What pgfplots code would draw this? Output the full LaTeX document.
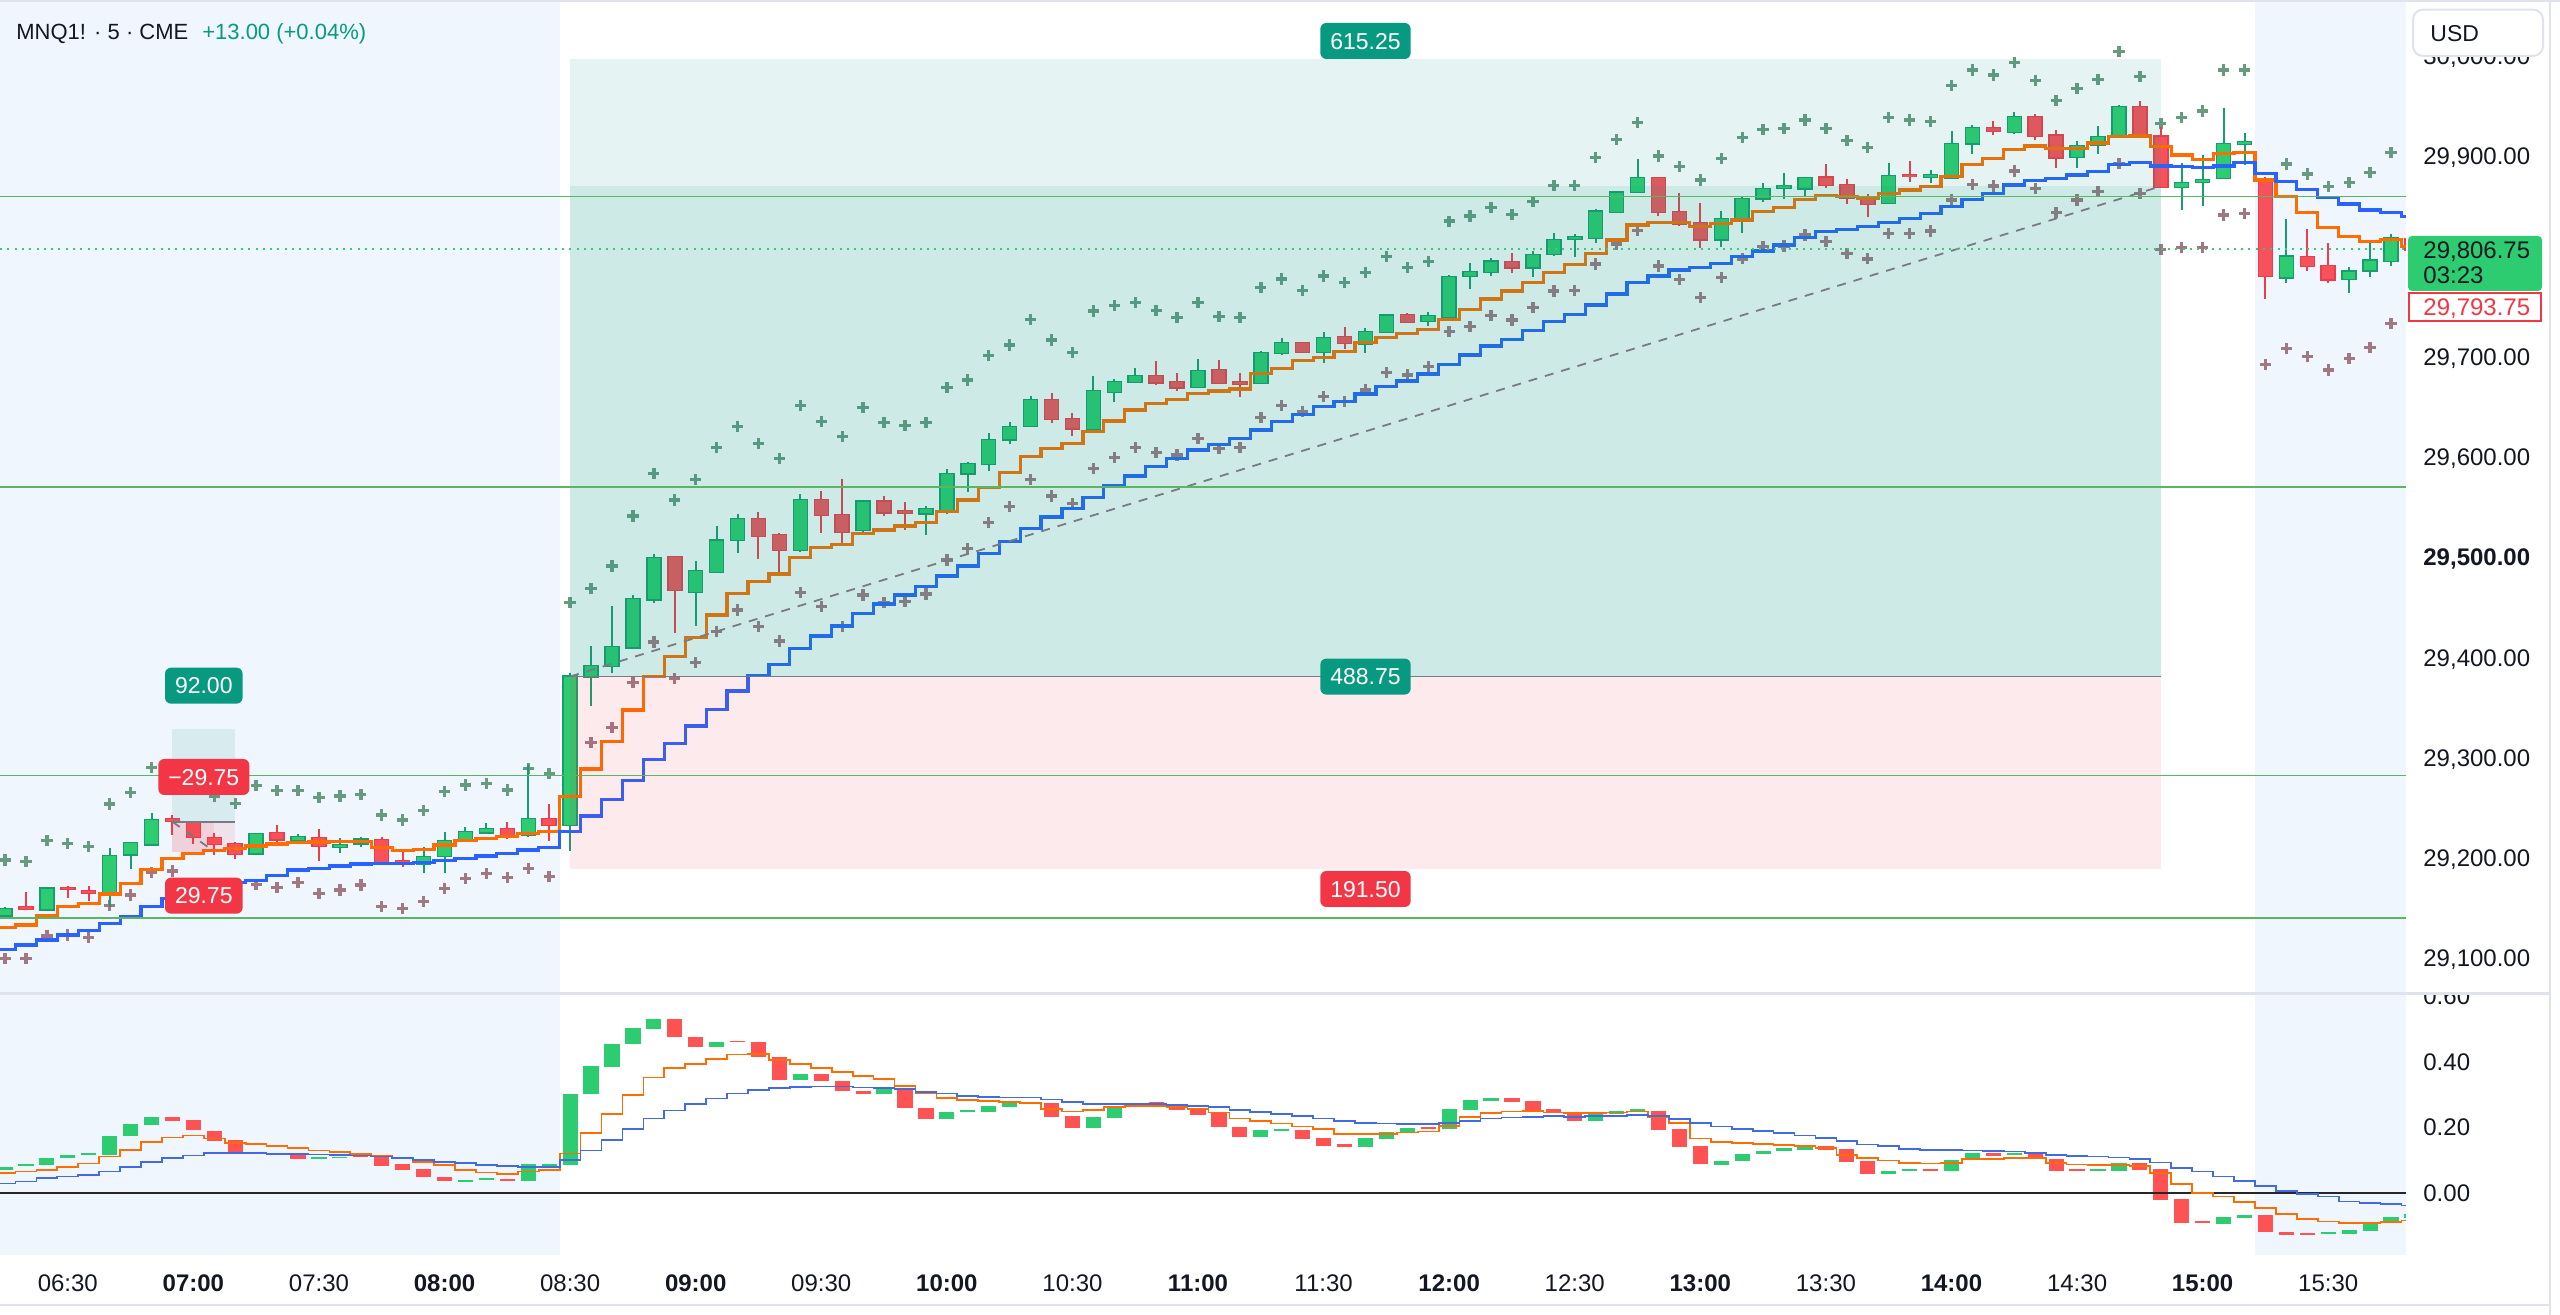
\documentclass[border=0pt]{standalone}
\usepackage{pgfplots}
\pgfplotsset{compat=1.18}
\usepackage{pgfplotstable}
\usepackage{fontspec}
\setmainfont{Liberation Sans}

\definecolor{cgreen}{RGB}{46,204,113}
\definecolor{cgreenb}{RGB}{24,158,110}
\definecolor{cred}{RGB}{247,82,92}
\definecolor{credb}{RGB}{236,62,74}
\definecolor{ored}{RGB}{255,82,82}
\definecolor{tvteal}{RGB}{8,153,129}
\definecolor{tvred}{RGB}{242,54,69}
\definecolor{orL}{RGB}{255,109,0}
\definecolor{blL}{RGB}{41,98,255}
\definecolor{blO}{RGB}{66,106,226}
\definecolor{sess}{RGB}{240,246,253}
\definecolor{hgreen}{RGB}{90,182,96}
\definecolor{dotg}{RGB}{60,200,120}
\definecolor{upx}{RGB}{104,154,128}
\definecolor{lox}{RGB}{160,120,130}
\definecolor{txt}{RGB}{19,23,34}
\definecolor{bord}{RGB}{224,227,235}
\definecolor{entryg}{RGB}{120,123,134}

\newcommand{\fs}[1]{\fontsize{#1}{#1}\selectfont}

% candles: bar index (5-min bars, 0 = 06:30), open high low close
\pgfplotstableread{
i o h l c
-3 29142.9 29151.6 29139.9 29148.9
-2 29151.0 29165.8 29149.5 29150.0
-1 29148.9 29170.8 29147.6 29169.8
0 29170.3 29172.5 29159.9 29169.5
1 29167.5 29172.5 29157.5 29165.8
2 29165.8 29210.7 29151.6 29202.4
3 29203.7 29216.0 29188.8 29214.7
4 29213.7 29244.6 29213.0 29237.6
5 29238.6 29242.9 29223.0 29237.6
6 29236.3 29236.8 29214.0 29221.3
7 29220.3 29224.7 29203.1 29214.4
8 29214.4 29216.4 29198.8 29204.7
9 29204.7 29225.3 29204.1 29223.7
10 29224.7 29233.0 29214.7 29218.7
11 29218.0 29224.0 29216.4 29220.7
12 29220.3 29229.3 29197.4 29212.0
13 29211.4 29219.7 29204.7 29213.4
14 29214.7 29221.3 29211.4 29218.4
15 29218.0 29220.7 29194.1 29196.4
16 29197.4 29207.4 29190.8 29194.1
17 29194.1 29211.4 29185.4 29200.7
18 29202.1 29226.3 29184.8 29217.0
19 29218.7 29230.6 29216.4 29225.7
20 29225.7 29234.6 29224.0 29229.3
21 29228.6 29236.3 29218.7 29223.0
22 29223.0 29292.8 29220.7 29238.6
23 29238.6 29253.9 29217.4 29233.0
24 29233.0 29384.5 29207.0 29380.9
25 29380.9 29411.5 29351.7 29391.5
26 29391.5 29451.3 29384.2 29410.1
27 29410.1 29462.3 29409.1 29458.0
28 29458.0 29502.9 29454.0 29498.9
29 29499.9 29500.5 29424.1 29467.3
30 29465.6 29496.2 29431.7 29486.2
31 29485.6 29531.4 29484.6 29516.5
32 29517.2 29542.7 29504.8 29538.4
33 29538.4 29545.4 29497.9 29521.5
34 29522.1 29523.8 29482.3 29507.2
35 29507.2 29562.7 29505.2 29557.0
36 29557.0 29566.0 29523.8 29542.1
37 29542.1 29577.6 29513.8 29525.5
38 29527.1 29557.0 29522.1 29555.4
39 29555.4 29561.3 29541.1 29544.7
40 29546.0 29555.4 29527.1 29544.7
41 29543.7 29551.4 29522.1 29547.7
42 29547.0 29587.6 29543.1 29582.6
43 29583.6 29594.6 29565.3 29592.9
44 29592.9 29623.5 29586.3 29616.8
45 29617.5 29634.5 29612.5 29630.1
46 29630.8 29660.7 29629.5 29656.7
47 29656.7 29663.4 29633.5 29637.8
48 29637.8 29644.1 29620.5 29628.5
49 29627.5 29680.7 29626.8 29665.7
50 29665.0 29677.7 29655.1 29674.4
51 29675.0 29688.3 29674.4 29681.0
52 29681.0 29696.0 29671.7 29674.4
53 29674.4 29684.0 29666.1 29669.4
54 29670.0 29697.3 29668.4 29685.7
55 29686.7 29696.6 29673.4 29674.0
56 29675.0 29684.0 29659.4 29673.4
57 29673.4 29705.9 29672.7 29703.9
58 29703.9 29718.2 29701.6 29713.2
59 29713.2 29714.9 29703.3 29704.9
60 29704.9 29724.9 29694.0 29718.9
61 29719.9 29729.9 29707.3 29713.9
62 29713.2 29728.2 29703.9 29724.2
63 29724.9 29742.2 29723.9 29740.8
64 29741.5 29743.2 29733.2 29734.9
65 29735.8 29744.8 29730.5 29740.5
66 29739.8 29781.4 29737.2 29779.0
67 29780.4 29793.7 29767.4 29784.0
68 29784.7 29798.0 29780.4 29794.7
69 29794.7 29803.0 29783.0 29789.0
70 29789.0 29805.6 29779.0 29801.3
71 29802.3 29823.6 29800.6 29816.3
72 29817.6 29822.2 29799.6 29818.9
73 29818.0 29846.9 29813.6 29844.5
74 29844.5 29864.5 29842.9 29863.5
75 29864.5 29896.7 29863.5 29877.8
76 29877.8 29878.4 29840.2 29844.5
77 29844.5 29863.5 29830.2 29832.9
78 29832.9 29853.5 29808.0 29817.0
79 29817.0 29845.2 29809.6 29836.9
80 29836.9 29859.5 29822.9 29856.8
81 29857.8 29872.8 29854.5 29866.8
82 29868.8 29882.8 29856.8 29869.8
83 29867.8 29879.4 29859.5 29878.4
84 29878.4 29892.1 29867.8 29871.1
85 29871.1 29876.8 29852.2 29858.8
86 29857.8 29862.1 29839.5 29852.2
87 29853.5 29893.4 29852.2 29880.1
88 29881.1 29895.0 29874.4 29880.1
89 29879.4 29886.1 29873.4 29880.8
90 29878.8 29924.9 29877.4 29912.0
91 29912.6 29930.9 29902.0 29927.6
92 29927.6 29935.3 29920.9 29925.3
93 29924.3 29944.2 29922.0 29938.6
94 29938.6 29941.6 29916.0 29920.3
95 29920.3 29925.9 29887.7 29898.7
96 29899.4 29915.3 29887.7 29910.0
97 29911.0 29929.9 29902.0 29919.3
98 29919.3 29950.9 29917.6 29948.5
99 29948.5 29955.2 29918.8 29919.3
100 29919.3 29928.6 29869.0 29869.6
101 29869.4 29893.4 29846.2 29872.8
102 29874.4 29901.0 29850.2 29876.1
103 29877.8 29947.5 29877.2 29912.0
104 29912.6 29922.6 29891.0 29914.3
105 29876.1 29879.4 29757.1 29780.4
106 29779.0 29836.9 29773.1 29799.7
107 29799.7 29826.9 29785.7 29790.4
108 29790.4 29813.6 29773.1 29777.1
109 29777.1 29789.7 29763.1 29784.7
110 29786.0 29815.6 29779.7 29795.7
111 29795.7 29822.3 29790.4 29817.9
112 29817.0 29818.0 29793.0 29806.8
}\candles

% stepped lines in the price pane: orange, blue
\pgfplotstableread{
i o b
-4 29129.0 29105.0
-3 29131.0 29109.0
-2 29133.3 29113.3
-1 29142.3 29118.3
0 29151.6 29123.3
1 29155.0 29127.6
2 29164.2 29134.9
3 29174.8 29141.6
4 29188.8 29151.6
5 29199.7 29159.9
6 29204.7 29166.5
7 29207.4 29172.2
8 29209.7 29176.0
9 29212.0 29177.5
10 29214.0 29182.8
11 29215.4 29188.1
12 29216.0 29189.8
13 29216.7 29192.1
14 29216.4 29194.1
15 29210.5 29194.8
16 29207.5 29194.8
17 29208.7 29195.4
18 29213.0 29197.4
19 29217.4 29199.7
20 29219.4 29202.1
21 29221.4 29204.7
22 29224.7 29208.1
23 29226.3 29210.7
24 29261.3 29226.3
25 29288.8 29242.0
26 29316.1 29258.6
27 29347.7 29277.2
28 29380.9 29298.5
29 29400.8 29314.4
30 29420.1 29331.7
31 29442.4 29348.3
32 29464.0 29366.6
33 29475.6 29381.9
34 29483.2 29393.2
35 29499.5 29409.1
36 29509.8 29421.4
37 29512.8 29431.4
38 29523.8 29444.0
39 29527.1 29453.3
40 29531.1 29462.3
41 29534.4 29470.6
42 29545.4 29481.3
43 29557.0 29491.2
44 29569.6 29503.9
45 29584.3 29515.5
46 29600.2 29528.8
47 29608.5 29540.0
48 29613.5 29548.4
49 29625.1 29559.2
50 29635.8 29571.0
51 29646.8 29581.0
52 29653.4 29590.3
53 29656.8 29598.6
54 29663.4 29606.9
55 29665.7 29612.6
56 29667.7 29618.5
57 29683.3 29626.8
58 29688.3 29635.2
59 29695.9 29642.5
60 29699.3 29650.1
61 29704.9 29655.1
62 29713.9 29662.7
63 29718.9 29670.0
64 29723.2 29675.7
65 29727.0 29682.7
66 29737.0 29692.3
67 29747.1 29701.6
68 29757.4 29710.6
69 29765.4 29717.2
70 29774.0 29725.9
71 29783.7 29734.9
72 29791.7 29742.0
73 29803.0 29751.5
74 29816.3 29762.4
75 29831.2 29774.1
76 29833.9 29780.4
77 29833.9 29786.4
78 29829.6 29789.0
79 29832.9 29793.0
80 29836.2 29799.7
81 29844.5 29805.3
82 29848.8 29811.3
83 29856.2 29819.0
84 29860.2 29824.6
85 29859.5 29826.3
86 29857.8 29829.6
87 29862.8 29833.6
88 29866.1 29837.9
89 29869.5 29842.9
90 29879.4 29849.5
91 29891.1 29856.2
92 29897.7 29862.8
93 29906.7 29871.1
94 29910.0 29875.4
95 29907.7 29877.8
96 29907.7 29881.1
97 29913.0 29884.4
98 29919.6 29891.5
99 29919.9 29893.5
100 29909.3 29890.0
101 29901.0 29889.4
102 29896.7 29888.7
103 29902.7 29890.0
104 29903.7 29893.4
105 29876.1 29882.7
106 29859.5 29874.4
107 29843.5 29866.8
108 29828.9 29858.8
109 29819.6 29852.2
110 29814.6 29846.2
111 29816.9 29843.5
112 29809.6 29839.5
}\mlines

% upper crosses
\pgfplotstableread{
i p
-3 29198.1
-2 29196.4
-1 29217.4
0 29214.7
1 29211.4
2 29253.9
3 29265.2
4 29290.1
5 29285.0
6 29272.0
7 29261.2
8 29254.6
9 29272.5
10 29267.2
11 29267.2
12 29260.2
13 29261.9
14 29263.2
15 29242.9
16 29238.0
17 29247.3
18 29266.2
19 29272.9
20 29274.5
21 29267.9
22 29289.5
23 29284.5
24 29455.0
25 29469.0
26 29491.2
27 29541.1
28 29583.6
29 29557.0
30 29577.6
31 29609.5
32 29630.1
33 29613.5
34 29598.6
35 29651.1
36 29635.1
37 29620.2
38 29649.4
39 29634.1
40 29631.1
41 29634.1
42 29669.4
43 29676.7
44 29700.9
45 29711.6
46 29737.1
47 29716.5
48 29704.2
49 29745.5
50 29750.8
51 29753.8
52 29745.8
53 29738.8
54 29753.8
55 29739.8
56 29738.8
57 29769.1
58 29777.4
59 29765.8
60 29780.4
61 29773.7
62 29784.0
63 29799.6
64 29789.0
65 29794.7
66 29835.0
67 29840.2
68 29848.9
69 29841.9
70 29854.5
71 29870.4
72 29870.4
73 29898.7
74 29916.6
75 29933.3
76 29900.0
77 29889.4
78 29876.1
79 29897.7
80 29918.6
81 29926.6
82 29927.6
83 29935.9
84 29927.6
85 29915.3
86 29908.7
87 29938.2
88 29935.9
89 29934.3
90 29970.1
91 29985.8
92 29980.8
93 29993.4
94 29975.1
95 29955.2
96 29967.5
97 29976.5
98 30004.0
99 29979.1
100 29932.6
101 29938.2
102 29944.9
103 29985.7
104 29985.7
106 29892.0
107 29882.1
108 29869.4
109 29873.8
110 29883.4
111 29903.7
}\ucr

% lower crosses
\pgfplotstableread{
i p
-3 29100.1
-2 29100.1
-1 29122.3
0 29123.3
1 29121.0
2 29152.6
3 29163.2
4 29185.8
5 29187.1
6 29172.0
7 29165.0
8 29165.0
9 29173.8
10 29170.5
11 29175.5
12 29164.9
13 29168.2
14 29173.2
15 29151.6
16 29149.9
17 29156.5
18 29169.8
19 29179.8
20 29184.8
21 29180.8
22 29189.8
23 29181.5
25 29315.1
26 29330.1
27 29375.3
28 29415.5
29 29379.2
30 29394.9
31 29425.8
32 29447.4
33 29430.7
34 29416.5
35 29465.0
36 29450.7
37 29430.7
38 29462.3
39 29455.0
40 29455.7
41 29463.3
42 29497.2
43 29508.8
44 29534.4
45 29550.4
46 29577.6
47 29561.0
48 29553.7
49 29588.6
50 29599.6
51 29609.2
52 29604.2
53 29601.9
54 29618.5
55 29608.6
56 29609.2
57 29639.5
58 29651.1
59 29645.1
60 29660.1
61 29655.1
62 29666.7
63 29684.3
64 29681.7
65 29690.0
66 29724.9
67 29729.9
68 29740.8
69 29736.5
70 29748.8
71 29765.4
72 29765.8
73 29792.4
74 29812.3
75 29825.6
76 29790.4
77 29777.1
78 29758.8
79 29778.7
80 29797.4
81 29809.6
82 29810.3
83 29821.3
84 29814.6
85 29803.0
86 29797.4
87 29822.9
88 29822.9
89 29825.3
90 29856.2
91 29871.8
92 29870.1
93 29885.1
94 29867.8
95 29843.9
96 29856.2
97 29864.5
98 29892.7
99 29862.8
100 29807.0
101 29808.6
102 29809.0
103 29841.2
104 29842.9
105 29692.3
106 29708.3
107 29700.0
108 29686.7
109 29698.3
110 29709.3
111 29733.2
}\lcr

% oscillator candles (open, close)
\pgfplotstableread{
i o c
-3 0.070 0.080
-2 0.082 0.088
-1 0.086 0.106
0 0.106 0.116
1 0.115 0.121
2 0.116 0.175
3 0.174 0.210
4 0.207 0.232
5 0.232 0.220
6 0.222 0.192
7 0.190 0.159
8 0.161 0.121
9 0.124 0.119
10 0.121 0.117
11 0.116 0.104
12 0.104 0.108
13 0.106 0.111
14 0.116 0.109
15 0.113 0.083
16 0.088 0.070
17 0.072 0.048
18 0.050 0.035
19 0.035 0.040
20 0.040 0.045
21 0.042 0.035
22 0.035 0.087
23 0.083 0.089
24 0.085 0.300
25 0.300 0.387
26 0.385 0.455
27 0.453 0.503
28 0.500 0.530
29 0.530 0.474
30 0.474 0.445
31 0.445 0.461
32 0.464 0.459
33 0.461 0.413
34 0.413 0.344
35 0.344 0.362
36 0.362 0.340
37 0.342 0.310
38 0.311 0.301
39 0.301 0.322
40 0.313 0.258
41 0.260 0.225
42 0.225 0.248
43 0.246 0.253
44 0.246 0.265
45 0.263 0.278
46 0.278 0.271
47 0.273 0.232
48 0.235 0.197
49 0.197 0.230
50 0.227 0.265
51 0.263 0.275
52 0.276 0.263
53 0.268 0.253
54 0.255 0.237
55 0.245 0.200
56 0.202 0.171
57 0.171 0.192
58 0.189 0.194
59 0.192 0.163
60 0.166 0.144
61 0.148 0.139
62 0.139 0.166
63 0.164 0.185
64 0.184 0.197
65 0.200 0.194
66 0.194 0.255
67 0.253 0.283
68 0.280 0.290
69 0.290 0.276
70 0.280 0.251
71 0.255 0.245
72 0.248 0.219
73 0.219 0.243
74 0.241 0.251
75 0.248 0.255
76 0.251 0.192
77 0.194 0.141
78 0.144 0.087
79 0.085 0.097
80 0.096 0.119
81 0.118 0.128
82 0.129 0.136
83 0.131 0.143
84 0.143 0.131
85 0.133 0.095
86 0.097 0.057
87 0.057 0.067
88 0.068 0.073
89 0.073 0.068
90 0.068 0.100
91 0.100 0.121
92 0.121 0.114
93 0.116 0.123
94 0.121 0.103
95 0.103 0.068
96 0.073 0.068
97 0.068 0.073
98 0.068 0.092
99 0.092 0.070
100 0.072 -0.021
101 -0.019 -0.090
102 -0.085 -0.090
103 -0.095 -0.074
104 -0.075 -0.067
105 -0.067 -0.120
106 -0.118 -0.128
107 -0.123 -0.128
108 -0.126 -0.120
109 -0.126 -0.112
110 -0.115 -0.092
111 -0.092 -0.074
112 -0.077 -0.064
}\oscb

% oscillator lines: orange, blue
\pgfplotstableread{
i o b
-4 0.057 0.025
-3 0.060 0.029
-2 0.065 0.035
-1 0.070 0.045
0 0.080 0.050
1 0.090 0.055
2 0.111 0.065
3 0.131 0.080
4 0.156 0.095
5 0.169 0.106
6 0.175 0.114
7 0.166 0.121
8 0.153 0.121
9 0.149 0.121
10 0.143 0.119
11 0.136 0.118
12 0.129 0.117
13 0.124 0.116
14 0.118 0.114
15 0.113 0.111
16 0.106 0.106
17 0.095 0.100
18 0.085 0.095
19 0.070 0.092
20 0.062 0.085
21 0.058 0.082
22 0.065 0.080
23 0.070 0.080
24 0.120 0.101
25 0.182 0.129
26 0.240 0.161
27 0.298 0.195
28 0.352 0.227
29 0.380 0.251
30 0.393 0.270
31 0.408 0.288
32 0.422 0.303
33 0.423 0.314
34 0.405 0.319
35 0.393 0.322
36 0.381 0.324
37 0.369 0.324
38 0.356 0.321
39 0.346 0.319
40 0.326 0.316
41 0.303 0.308
42 0.290 0.303
43 0.283 0.296
44 0.281 0.293
45 0.276 0.291
46 0.273 0.291
47 0.255 0.285
48 0.248 0.276
49 0.253 0.271
50 0.261 0.270
51 0.265 0.270
52 0.265 0.270
53 0.261 0.268
54 0.256 0.265
55 0.245 0.261
56 0.227 0.253
57 0.219 0.246
58 0.212 0.240
59 0.202 0.234
60 0.194 0.227
61 0.180 0.219
62 0.179 0.214
63 0.179 0.212
64 0.184 0.209
65 0.187 0.209
66 0.204 0.214
67 0.232 0.220
68 0.243 0.227
69 0.248 0.230
70 0.250 0.232
71 0.245 0.234
72 0.243 0.232
73 0.243 0.234
74 0.245 0.234
75 0.248 0.237
76 0.232 0.234
77 0.214 0.225
78 0.166 0.214
79 0.156 0.202
80 0.153 0.195
81 0.149 0.189
82 0.146 0.182
83 0.143 0.175
84 0.136 0.167
85 0.116 0.158
86 0.106 0.148
87 0.099 0.143
88 0.092 0.134
89 0.090 0.131
90 0.092 0.131
91 0.103 0.129
92 0.104 0.128
93 0.107 0.126
94 0.106 0.121
95 0.092 0.116
96 0.087 0.113
97 0.085 0.111
98 0.085 0.108
99 0.082 0.104
100 0.060 0.093
101 0.027 0.077
102 0.001 0.065
103 -0.011 0.050
104 -0.028 0.037
105 -0.045 0.022
106 -0.064 0.007
107 -0.079 -0.003
108 -0.087 -0.011
109 -0.092 -0.026
110 -0.092 -0.031
111 -0.089 -0.034
112 -0.084 -0.038
}\oscl

\pgfplotsset{
  bars/.style n args={3}{forget plot, draw=none, mark=none,
    restrict expr to domain={\thisrow{c}-\thisrow{o}}{#1},
    error bars/.cd, y dir=both, y explicit, error mark=none,
    error bar style={draw=#2, line width=#3, solid}},
  crosses/.style={forget plot, draw=none, mark=none,
    error bars/.cd, x dir=both, x fixed=0.27, y dir=both, y fixed=5.6,
    error mark=none, error bar style={draw=#1, line width=1.7pt, solid}},
}
\tikzset{
  ticklab/.style={inner sep=0pt, text height=8.6pt, text depth=0pt,
    font=\fs{12}, text=txt},
  lbl/.style={text=white, rounded corners=3pt, inner xsep=5pt, inner ysep=0pt,
    minimum height=18pt, font=\fs{11.5}, text height=8.2pt, text depth=0pt},
}

\begin{document}
\begin{tikzpicture}[x=0.5pt,y=0.5pt]
\useasboundingbox (0,0) rectangle (2560,1315);
\fill[white] (0,0) rectangle (2560,1315);

% ---------------- price pane ----------------
\begin{axis}[
  at={(0pt,161.5pt)}, anchor=south west, scale only axis,
  width=1203pt, height=496pt,
  xmin=-3.239, xmax=111.715, ymin=29066.5, ymax=30055.5,
  axis line style={draw=none}, tick style={draw=none}, major tick length=0pt,
  xtick=\empty,
  ytick={29100,29200,29300,29400,29500,29600,29700,29900,30000},
  yticklabels={{29,100.00},{29,200.00},{29,300.00},{29,400.00},{\bfseries 29,500.00},{29,600.00},{29,700.00},{29,900.00},{30,000.00}},
  yticklabel pos=right,
  yticklabel style={ticklab, anchor=west, xshift=8.5pt},
]
% session shading
\fill[sess] (axis cs:-10,29000) rectangle (axis cs:23.5,30100);
\fill[sess] (axis cs:104.5,29000) rectangle (axis cs:120,30100);

% crosses (bold plus signs above and below price)
\addplot[crosses=upx] table[x=i, y=p] {\ucr};
\addplot[crosses=lox] table[x=i, y=p] {\lcr};

% candles: wicks, body border, body fill
\addplot[bars={0:1000}{cgreenb}{1pt}] table[x=i, y expr={(\thisrow{h}+\thisrow{l})/2}, y error expr={(\thisrow{h}-\thisrow{l})/2}] {\candles};
\addplot[bars={-1000:-0.0001}{credb}{1pt}] table[x=i, y expr={(\thisrow{h}+\thisrow{l})/2}, y error expr={(\thisrow{h}-\thisrow{l})/2}] {\candles};
\addplot[bars={0:1000}{cgreenb}{7.75pt}] table[x=i, y expr={(\thisrow{o}+\thisrow{c})/2}, y error expr={max(abs(\thisrow{c}-\thisrow{o})/2,0.6)+1.2}] {\candles};
\addplot[bars={-1000:-0.0001}{credb}{7.75pt}] table[x=i, y expr={(\thisrow{o}+\thisrow{c})/2}, y error expr={max(abs(\thisrow{c}-\thisrow{o})/2,0.6)+1.2}] {\candles};
\addplot[bars={0:1000}{cgreen}{6.25pt}] table[x=i, y expr={(\thisrow{o}+\thisrow{c})/2}, y error expr={max(abs(\thisrow{c}-\thisrow{o})/2,0.6)}] {\candles};
\addplot[bars={-1000:-0.0001}{cred}{6.25pt}] table[x=i, y expr={(\thisrow{o}+\thisrow{c})/2}, y error expr={max(abs(\thisrow{c}-\thisrow{o})/2,0.6)}] {\candles};

% stepped lines
\addplot[orL, line width=1.6pt, const plot mark mid, mark=none] table[x=i, y=o] {\mlines};
\addplot[blL, line width=1.6pt, const plot mark mid, mark=none] table[x=i, y=b] {\mlines};

% long position (big)
\fill[tvteal, fill opacity=0.10] (axis cs:24,29381) rectangle (axis cs:100,29996.25);
\fill[tvteal, fill opacity=0.10] (axis cs:24,29381) rectangle (axis cs:100,29869.75);
\fill[tvred, fill opacity=0.10] (axis cs:24,29189.5) rectangle (axis cs:100,29381);
\draw[entryg, line width=0.8pt] (axis cs:24,29381) -- (axis cs:100,29381);
\draw[entryg, line width=0.9pt, dash pattern=on 4.5pt off 4pt] (axis cs:24,29381) -- (axis cs:100,29869.75);

% small position
\fill[tvteal, fill opacity=0.10] (axis cs:5,29236.25) rectangle (axis cs:8,29328.25);
\fill[tvred, fill opacity=0.10] (axis cs:5,29206.5) rectangle (axis cs:8,29236.25);
\fill[tvred, fill opacity=0.10] (axis cs:5,29206.5) rectangle (axis cs:7,29236.25);
\draw[entryg, line width=0.8pt] (axis cs:5,29236.25) -- (axis cs:8,29236.25);
\draw[entryg, line width=0.9pt, dash pattern=on 4.5pt off 4pt] (axis cs:5,29236.25) -- (axis cs:7,29206.5);

% horizontal levels
\draw[hgreen, line width=0.8pt] (axis cs:-5,29859.5) -- (axis cs:115,29859.5);
\draw[hgreen, line width=0.8pt] (axis cs:-5,29570.25) -- (axis cs:115,29570.25);
\draw[hgreen, line width=0.8pt] (axis cs:-5,29282.25) -- (axis cs:115,29282.25);
\draw[hgreen, line width=0.8pt] (axis cs:-5,29140.0) -- (axis cs:115,29140.0);
% last price line
\draw[dotg, line width=1pt, dash pattern=on 1pt off 2.65pt] (axis cs:-3.239,29806.75) -- (axis cs:111.715,29806.75);
\end{axis}

% ---------------- oscillator pane ----------------
\begin{axis}[
  at={(0pt,30pt)}, anchor=south west, scale only axis,
  width=1203pt, height=130pt,
  xmin=-3.239, xmax=111.715, ymin=-0.1887, ymax=0.6027,
  axis line style={draw=none}, tick style={draw=none}, major tick length=0pt,
  xtick={0,6,...,108},
  xticklabels={06:30,\textbf{07:00},07:30,\textbf{08:00},08:30,\textbf{09:00},09:30,\textbf{10:00},10:30,\textbf{11:00},11:30,\textbf{12:00},12:30,\textbf{13:00},13:30,\textbf{14:00},14:30,\textbf{15:00},15:30},
  xticklabel style={ticklab, anchor=center, yshift=-14pt},
  ytick={0,0.2,0.4,0.6},
  yticklabels={0.00,0.20,0.40,0.60},
  yticklabel pos=right,
  yticklabel style={ticklab, anchor=west, xshift=8.5pt},
]
\fill[sess] (axis cs:-10,-1) rectangle (axis cs:23.5,1);
\fill[sess] (axis cs:104.5,-1) rectangle (axis cs:120,1);
\addplot[bars={0:10}{cgreen}{7.6pt}] table[x=i, y expr={(\thisrow{o}+\thisrow{c})/2}, y error expr={max(abs(\thisrow{c}-\thisrow{o})/2,0.0025)}] {\oscb};
\addplot[bars={-10:-0.00001}{ored}{7.6pt}] table[x=i, y expr={(\thisrow{o}+\thisrow{c})/2}, y error expr={max(abs(\thisrow{c}-\thisrow{o})/2,0.0025)}] {\oscb};
\draw[black!85, line width=1pt] (axis cs:-5,0) -- (axis cs:115,0);
\addplot[orL, line width=0.85pt, const plot mark mid, mark=none] table[x=i, y=o] {\oscl};
\addplot[blO, line width=0.85pt, const plot mark mid, mark=none] table[x=i, y=b] {\oscl};
\end{axis}

% ---------------- frame ----------------
\fill[white] (2407,323) rectangle (2549,337);
\fill[bord] (0,320) rectangle (2550,323);
\fill[bord] (0,1313) rectangle (2560,1315);
\fill[bord] (0,9) rectangle (2550,11);
\fill[bord] (2549,0) rectangle (2551,1315);

% legend
\node[anchor=west, inner sep=0pt, text height=7.9pt, text depth=0pt, font=\fs{11}, text=txt] at (16,1283.3)
  {MNQ1! · 5 · CME\hspace{7pt}{\color{tvteal}+13.00 (+0.04\%)}};

% position labels
\node[lbl, fill=tvteal] at (1365.5,1274) {615.25};
\node[lbl, fill=tvteal] at (1365.5,638.4) {488.75};
\node[lbl, fill=tvred] at (1365.5,426) {191.50};
\node[lbl, fill=tvteal] at (203.8,629.3) {92.00};
\node[lbl, fill=tvred] at (203.8,538) {−29.75};
\node[lbl, fill=tvred] at (203.8,419.3) {29.75};

% price scale labels
\fill[cgreen, rounded corners=2pt] (2408,1024) rectangle (2542,1079);
\node[ticklab, anchor=west] at (2423,1065) {29,806.75};
\node[ticklab, anchor=west] at (2423,1040.3) {03:23};
\draw[tvred, fill=white, line width=1pt] (2409,994) rectangle (2541,1022);
\node[ticklab, anchor=west, text=tvred] at (2423,1008) {29,793.75};
\draw[bord, fill=white, rounded corners=5pt, line width=1pt] (2413,1259) rectangle (2543,1305.4);
\node[ticklab, anchor=west, font=\fs{11.5}] at (2430,1282) {USD};
\end{tikzpicture}
\end{document}
